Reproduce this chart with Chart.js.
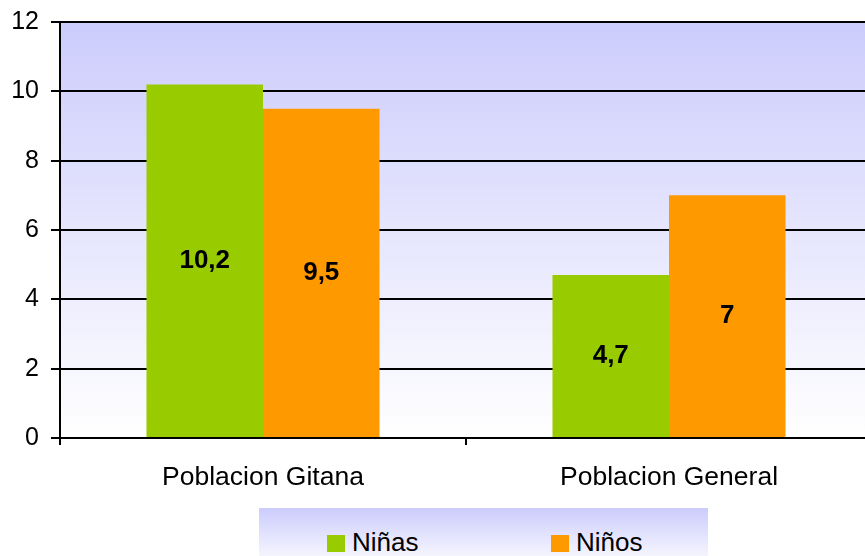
<!DOCTYPE html>
<html>
<head>
<meta charset="utf-8">
<script src="https://cdn.jsdelivr.net/npm/chart.js@4/dist/chart.umd.min.js"></script>
<style>
  html, body { margin: 0; padding: 0; background: #fff; overflow: hidden; }
  #wrap { position: relative; width: 865px; height: 556px; overflow: hidden; }
  #chart { position: absolute; left: 0; top: 0; }
  #leyenda {
    position: absolute; left: 259px; top: 508px; width: 449px; height: 60px;
    background: linear-gradient(#ccccfc, #ffffff);
    font-family: "Liberation Sans", Arial, sans-serif; font-size: 26px; color: #000;
  }
  .item { position: absolute; top: 21px; line-height: 26px; white-space: nowrap; }
  .caja { display: inline-block; width: 18px; height: 17px; margin-right: 7px; vertical-align: -1px; }
</style>
</head>
<body>
<div id="wrap">
  <canvas id="chart" width="880" height="556"></canvas>
  <div id="leyenda"></div>
</div>
<script>
const categorias = ["Poblacion Gitana", "Poblacion General"];
const ninas = [10.2, 4.7];
const ninos = [9.5, 7];
const series = ["Niñas", "Niños"];
const colores = ["#99cc00", "#ff9900"];
const ticksY = [0, 2, 4, 6, 8, 10, 12];

const fuente = "'Liberation Sans', Arial, sans-serif";

//#region plugins
// fondo degradado del area de trazado
const fondoPlugin = {
  id: "fondo",
  beforeDraw(chart) {
    const { ctx, chartArea: a } = chart;
    const g = ctx.createLinearGradient(0, a.top, 0, a.bottom);
    g.addColorStop(0, "#ccccfc");
    g.addColorStop(1, "#ffffff");
    ctx.save();
    ctx.fillStyle = g;
    ctx.fillRect(a.left, a.top, a.right - a.left, a.bottom - a.top);
    ctx.restore();
  }
};

// etiquetas de valor centradas dentro de cada barra
const etiquetasPlugin = {
  id: "etiquetas",
  afterDatasetsDraw(chart) {
    const { ctx } = chart;
    ctx.save();
    ctx.font = "bold 26px " + fuente;
    ctx.fillStyle = "#000";
    ctx.textAlign = "center";
    ctx.textBaseline = "middle";
    chart.data.datasets.forEach((ds, i) => {
      chart.getDatasetMeta(i).data.forEach((bar, j) => {
        const { x, y, base } = bar.getProps(["x", "y", "base"], true);
        ctx.fillText(String(ds.data[j]).replace(".", ","), x, (y + base) / 2);
      });
    });
    ctx.restore();
  }
};
//#endregion

//#region bar chart
new Chart(document.getElementById("chart").getContext("2d"), {
  type: "bar",
  data: {
    labels: categorias,
    datasets: [
      { label: series[0], data: ninas, backgroundColor: colores[0] },
      { label: series[1], data: ninos, backgroundColor: colores[1] }
    ]
  },
  options: {
    responsive: false,
    animation: false,
    datasets: { bar: { categoryPercentage: 0.574, barPercentage: 1, borderWidth: 0 } },
    layout: { padding: { top: 22, right: 8, bottom: 58, left: 0 } },
    scales: {
      y: {
        min: 0,
        max: 12,
        afterFit: s => { s.width = 60; s.paddingTop = 0; s.paddingBottom = 0; },
        afterBuildTicks: s => { s.ticks = ticksY.map(v => ({ value: v })); },
        ticks: { color: "#000", font: { family: fuente, size: 25 }, padding: 12 },
        grid: { color: "#000", lineWidth: 2, tickLength: 9, tickColor: "#000" },
        border: { color: "#000", width: 2 }
      },
      x: {
        afterFit: s => { s.height = 60; s.paddingLeft = 0; s.paddingRight = 0; },
        ticks: { color: "#000", font: { family: fuente, size: 26.5 }, padding: 17 },
        grid: { offset: true, drawOnChartArea: false, tickLength: 7, tickColor: "#000", lineWidth: 2 },
        border: { color: "#000", width: 2 }
      }
    },
    plugins: {
      legend: { display: false },
      tooltip: { enabled: false }
    }
  },
  plugins: [fondoPlugin, etiquetasPlugin]
});
//#endregion

//#region leyenda
const leyenda = document.getElementById("leyenda");
[68, 292].forEach((left, i) => {
  const item = document.createElement("div");
  item.className = "item";
  item.style.left = left + "px";
  item.innerHTML = '<span class="caja" style="background:' + colores[i] + '"></span>' + series[i];
  leyenda.appendChild(item);
});
//#endregion
</script>
</body>
</html>
